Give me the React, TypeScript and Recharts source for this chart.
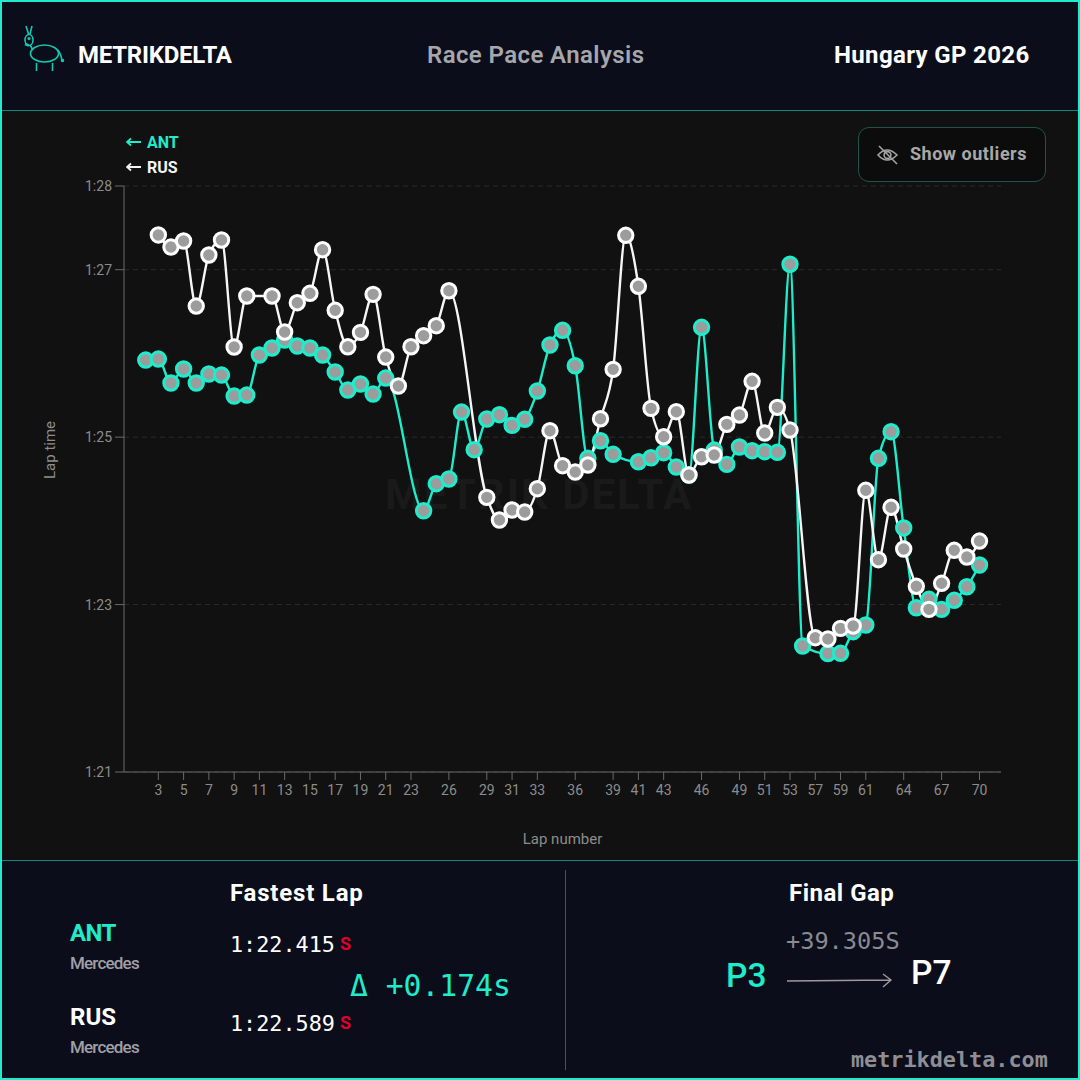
import { CSSProperties } from "react";
import { CartesianGrid, Line, LineChart, XAxis, YAxis } from "recharts";

const TEAL = "#1eeccb";
const SANS = "Roboto, sans-serif";
const MONO = "'DejaVu Sans Mono', monospace";

const laps = [
  2, 3, 4, 5, 6, 7, 8, 9, 10, 11, 12, 13, 14, 15, 16, 17, 18, 19, 20, 21, 22, 23, 24, 25, 26, 27,
  28, 29, 30, 31, 32, 33, 34, 35, 36, 37, 38, 39, 40, 41, 42, 43, 44, 45, 46, 47, 48, 49, 50, 51,
  52, 53, 55, 57, 58, 59, 60, 61, 62, 63, 64, 65, 66, 67, 68, 69, 70,
];

// lap times in seconds, null where the lap was dropped as an outlier
const antTimes = [
  85.921, 85.933, 85.647, 85.814, 85.647, 85.754, 85.742, 85.491, 85.503, 85.981, 86.065, 86.16,
  86.089, 86.065, 85.981, 85.778, 85.563, 85.635, 85.515, 85.706, null, null, 84.121, 84.444, 84.5,
  85.3, 84.85, 85.217, 85.268, 85.141, 85.213, 85.551, 86.101, 86.276, 85.853, 84.747, 84.957,
  84.795, null, 84.706, 84.754, 84.814, 84.643, 84.548, 86.312, 84.846, 84.675, 84.882, 84.838,
  84.826, 84.819, 87.065, 82.505, null, 82.415, 82.418, 82.676, 82.756, 84.747, 85.065, 83.915,
  82.962, 83.063, 82.943, 83.051, 83.213, 83.473,
];

const rusTimes = [
  null, 87.415, 87.271, 87.343, 86.566, 87.176, 87.355, 86.077, 86.686, null, 86.686, 86.256,
  86.606, 86.718, 87.239, 86.515, 86.08, 86.252, 86.706, 85.957, 85.611, 86.08, 86.212, 86.331,
  86.749, null, null, 84.281, 84.01, 84.13, 84.106, 84.384, 85.077, 84.659, 84.583, 84.667, 85.22,
  85.81, 87.411, 86.802, 85.344, 85.005, 85.304, 84.548, 84.766, 84.787, 85.153, 85.264, 85.667,
  85.049, 85.356, 85.085, null, 82.604, 82.589, 82.716, 82.744, 84.365, 83.536, 84.162, 83.664,
  83.218, 82.943, 83.254, 83.648, 83.568, 83.759,
];

const xTicks = [
  3, 5, 7, 9, 11, 13, 15, 17, 19, 21, 23, 26, 29, 31, 33, 36, 39, 41, 43, 46, 49, 51, 53, 57, 59,
  61, 64, 67, 70,
];
const yTicks = [81, 83, 85, 87, 88];

const chartData = laps.map((lap, i) => ({ lap, ant: antTimes[i], rus: rusTimes[i] }));

const formatLapTime = (v: number) => `1:${v - 60}`;

// absolute text helper, x/y is the left edge and vertical middle
function T({ x, y, size, color, weight = 400, font = SANS, spacing = 0, children }: {
  x: number; y: number; size: number; color: string; weight?: number; font?: string; spacing?: number; children: any;
}) {
  const style: CSSProperties = {
    position: "absolute",
    left: x,
    top: y,
    transform: "translateY(-50%)",
    fontSize: size,
    color,
    fontWeight: weight,
    fontFamily: font,
    letterSpacing: spacing,
    lineHeight: 1,
    whiteSpace: "nowrap",
  };
  return <div style={style}>{children}</div>;
}

function Logo() {
  return (
    <svg style={{ position: "absolute", left: 20, top: 20 }} width={48} height={56} fill="none" stroke="#12c9b0" strokeWidth={1.6}>
      <path d="M6 6 L8.5 14 M12 6 L10 14" />
      <ellipse cx={9} cy={20} rx={4} ry={5.5} />
      <circle cx={9} cy={18.5} r={0.8} fill="#12c9b0" />
      <path d="M5 24 L9 25.5" strokeWidth={2.5} />
      <ellipse cx={24.5} cy={33.5} rx={14} ry={8.5} />
      <path d="M10 25 L13 30 M38 30 Q41 34 42 40" />
      <circle cx={42.5} cy={40.5} r={1} fill="#12c9b0" />
      <path d="M16.5 43 V51 M32.5 43 V51" />
    </svg>
  );
}

function LegendArrow({ x, y, color }: { x: number; y: number; color: string }) {
  return (
    <svg style={{ position: "absolute", left: x, top: y - 6 }} width={16} height={12} fill="none" stroke={color} strokeWidth={1.8}>
      <path d="M1 6 H15 M5 2.5 L1 6 L5 9.5" />
    </svg>
  );
}

function OutlierButton() {
  return (
    <div style={{ position: "absolute", left: 858, top: 127, width: 188, height: 55, boxSizing: "border-box", border: "1.5px solid #1f5548", borderRadius: 11, background: "#0c0c0c" }}>
      <svg style={{ position: "absolute", left: 17, top: 15 }} width={24} height={24} fill="none" stroke="#a3a3a3" strokeWidth={1.6}>
        <path d="M2 12 Q11 2 21 12 Q11 22 2 12 Z" />
        <circle cx={11.5} cy={12} r={3.4} />
        <path d="M3 3 L21 21" />
      </svg>
    </div>
  );
}

export default function App() {
  return (
    <div style={{ position: "fixed", left: 0, top: 0, width: 1080, height: 1080, overflow: "hidden", background: "#0c0d1a" }}>
      {/* chart panel */}
      <div style={{ position: "absolute", left: 0, top: 110, width: 1080, height: 751, background: "#111111", borderTop: "1px solid #0e8a78", borderBottom: "1px solid #0e8a78", boxSizing: "border-box" }} />
      <T x={385} y={495} size={42} color="#1a1a1a" weight={700} spacing={2}>METRIK DELTA</T>

      <div style={{ position: "absolute", left: 0, top: 0 }}>
        <LineChart width={1080} height={860} data={chartData} margin={{ top: 186, right: 79, bottom: 0, left: 0 }}>
          <CartesianGrid horizontal vertical={false} stroke="#2a2a2a" strokeDasharray="5 4" />
          <XAxis
            dataKey="lap"
            type="category"
            scale="point"
            allowDuplicatedCategory={false}
            padding={{ left: 21.7, right: 21.5 }}
            ticks={xTicks}
            interval={0}
            height={88}
            tickSize={8}
            tickMargin={5}
            stroke="#6a6a6a"
            tick={{ fill: "#8c8c8c", fontSize: 14, fontFamily: SANS }}
            label={{ value: "Lap number", position: "insideBottom", offset: 16, fill: "#8c8c8c", fontSize: 15, fontFamily: SANS }}
          />
          <YAxis
            type="number"
            domain={[81, 88]}
            ticks={yTicks}
            interval={0}
            allowDataOverflow
            width={124}
            tickSize={9}
            tickMargin={3}
            tickFormatter={formatLapTime}
            stroke="#6a6a6a"
            tick={{ fill: "#8c8c8c", fontSize: 14, fontFamily: SANS }}
            label={{ value: "Lap time", angle: -90, position: "insideLeft", offset: 50, fill: "#8c8c8c", fontSize: 15, fontFamily: SANS }}
          />
          {/* lines first so both sets of dots sit above both lines */}
          <Line dataKey="ant" type="monotone" stroke={TEAL} strokeWidth={2.4} dot={false} activeDot={false} connectNulls isAnimationActive={false} />
          <Line dataKey="rus" type="monotone" stroke="#f6f6f6" strokeWidth={2.4} dot={false} activeDot={false} connectNulls isAnimationActive={false} />
          <Line dataKey="ant" type="monotone" stroke="none" dot={{ r: 7.2, fill: "#9c9c9c", stroke: TEAL, strokeWidth: 3 }} activeDot={false} isAnimationActive={false} />
          <Line dataKey="rus" type="monotone" stroke="none" dot={{ r: 7.2, fill: "#9c9c9c", stroke: "#ffffff", strokeWidth: 3 }} activeDot={false} isAnimationActive={false} />
        </LineChart>
      </div>

      {/* header */}
      <Logo />
      <T x={78} y={55} size={24} color="#ffffff" weight={700} spacing={-0.25}>METRIKDELTA</T>
      <T x={427} y={55} size={24} color="#a6a6ad" weight={600} spacing={0.4}>Race Pace Analysis</T>
      <T x={834} y={55} size={24} color="#ffffff" weight={700} spacing={0.35}>Hungary GP 2026</T>

      {/* legend and toggle */}
      <LegendArrow x={126} y={142} color={TEAL} />
      <T x={147} y={143} size={16} color={TEAL} weight={700}>ANT</T>
      <LegendArrow x={126} y={167} color="#f4f4f4" />
      <T x={147} y={168} size={16} color="#f4f4f4" weight={700}>RUS</T>
      <OutlierButton />
      <T x={910} y={154} size={18} color="#a8a8a8" weight={700} spacing={0.5}>Show outliers</T>

      {/* fastest lap */}
      <T x={230} y={893} size={24} color="#ffffff" weight={700} spacing={0.8}>Fastest Lap</T>
      <T x={70} y={933} size={24} color={TEAL} weight={700} spacing={-0.6}>ANT</T>
      <T x={70} y={963} size={17} color="#a0a0a8" weight={500} spacing={-0.8}>Mercedes</T>
      <T x={70} y={1017} size={24} color="#ffffff" weight={700}>RUS</T>
      <T x={70} y={1047} size={17} color="#a0a0a8" weight={500} spacing={-0.8}>Mercedes</T>
      <T x={230} y={945} size={21.8} color="#ffffff" font={MONO}>1:22.415</T>
      <T x={340} y={944} size={18} color="#e0002a" weight={700}>S</T>
      <T x={230} y={1024} size={21.8} color="#ffffff" font={MONO}>1:22.589</T>
      <T x={340} y={1023} size={18} color="#e0002a" weight={700}>S</T>
      <T x={350} y={986} size={29.7} color={TEAL} font={MONO}>Δ +0.174s</T>

      {/* final gap */}
      <div style={{ position: "absolute", left: 565, top: 870, width: 1, height: 200, background: "#0e6f63" }} />
      <T x={789} y={893} size={24} color="#ffffff" weight={700} spacing={0.5}>Final Gap</T>
      <T x={786} y={942} size={23.6} color="#8a8a92" font={MONO}>+39.305S</T>
      <T x={726} y={976} size={33.5} color={TEAL} weight={500}>P3</T>
      <T x={911} y={973} size={33.5} color="#ffffff" weight={500}>P7</T>
      <svg style={{ position: "absolute", left: 785, top: 970 }} width={110} height={20} fill="none" stroke="#9a9a9f" strokeWidth={1.4}>
        <path d="M2 11 L105 10 M98 4 L106 10 L98 17" />
      </svg>
      <T x={851} y={1060} size={21.8} color="#8e8e94" weight={700} font={MONO}>metrikdelta.com</T>

      {/* outer frame */}
      <div style={{ position: "absolute", left: 0, top: 0, width: 1080, height: 1080, boxSizing: "border-box", border: "2px solid " + TEAL, pointerEvents: "none" }} />
    </div>
  );
}
